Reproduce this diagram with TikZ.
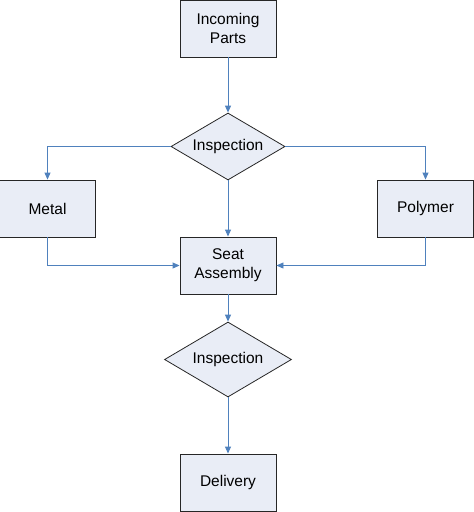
\documentclass[tikz,border=0pt]{standalone}
\usepackage{fontspec}
\setmainfont{Liberation Sans}
\usetikzlibrary{arrows.meta,shapes.geometric}
\definecolor{boxfill}{HTML}{E9EDF6}
\definecolor{linkblue}{HTML}{4F81BD}
\begin{document}
\begin{tikzpicture}[x=1pt,y=-1pt,
  box/.style={draw=black!85,fill=boxfill,line width=0.9pt,minimum width=96pt,minimum height=57pt,inner sep=0pt,align=center,font=\fontsize{15.5}{19}\selectfont},
  dia/.style={draw=black!85,fill=boxfill,line width=0.8pt,diamond,aspect=1.75,minimum width=114pt,minimum height=67pt,inner sep=0pt,font=\fontsize{15.5}{19}\selectfont},
  link/.style={draw=linkblue,line width=0.9pt,-{Triangle[width=6pt,length=7pt]}}]
\useasboundingbox (0,0) rectangle (474,512);
\node[box] (parts) at (228,28.5) {Incoming\\Parts};
\node[dia] (insp1) at (228,146.5) {Inspection};
\node[box] (metal) at (47.5,208.5) {Metal};
\node[box] (poly) at (425.5,208.5) {Polymer};
\node[box] (seat) at (228,265.5) {Seat\\Assembly};
\node[dia,minimum width=127pt,minimum height=75pt] (insp2) at (228,359.5) {Inspection};
\node[box] (deliv) at (228,482.5) {Delivery};
\draw[link] (parts.south) -- (insp1.north);
\draw[link] (insp1.west) -| (metal.north);
\draw[link] (insp1.east) -| (poly.north);
\draw[link] (insp1.south) -- (seat.north);
\draw[link] (metal.south) |- (seat.west);
\draw[link] (poly.south) |- (seat.east);
\draw[link] (seat.south) -- (insp2.north);
\draw[link] (insp2.south) -- (deliv.north);
\end{tikzpicture}
\end{document}
